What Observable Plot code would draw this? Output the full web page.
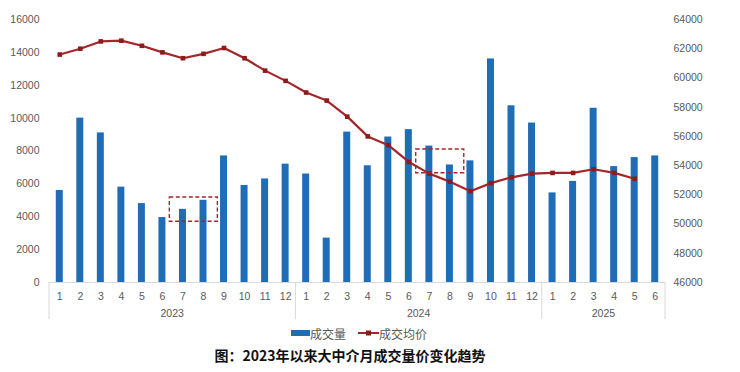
<!DOCTYPE html>
<html><head><meta charset="utf-8">
<script src="https://cdn.jsdelivr.net/npm/d3@7"></script>
<script src="https://cdn.jsdelivr.net/npm/@observablehq/plot@0.6"></script>
<style>
body{margin:0;background:#fff;font-family:"Noto Sans CJK SC","Liberation Sans",sans-serif;width:740px;overflow:hidden}
#legend{height:22px;display:flex;justify-content:center;align-items:center;font-size:12px;color:#595959;padding-right:22px}
#legend .item{display:flex;align-items:center;margin:0 6px}
#title{height:22px;line-height:22px;text-align:center;font-size:14px;font-weight:bold;color:#111;padding-right:40px}
</style></head><body>
<div id="chart"></div>
<div id="legend">
  <span class="item"><svg width="19" height="8"><rect x="0" y="1" width="19" height="6" fill="#1f6db6"></rect></svg><span>成交量</span></span>
  <span class="item"><svg width="21" height="8"><line x1="0" y1="4" x2="21" y2="4" stroke="#a3262a" stroke-width="2"></line><rect x="8" y="1.5" width="5" height="5" fill="#8c1c1c"></rect></svg><span>成交均价</span></span>
</div>
<div id="title">图：2023年以来大中介月成交量价变化趋势</div>
<script>
const years = ["2023", "2024", "2025"];
const monthLabels = [
  ["1","2","3","4","5","6","7","8","9","10","11","12"],
  ["1","2","3","4","5","6","7","8","9","10","11","12"],
  ["1","2","3","4","5","6"]
];
const volume = [5600,10000,9100,5800,4800,3950,4450,5000,7700,5900,6300,7200,
                6600,2700,9150,7100,8850,9300,8300,7150,7400,13600,10750,9700,
                5450,6150,10600,7050,7600,7700];
const avgPrice = [61600,62000,62500,62550,62200,61750,61350,61650,62050,61350,60500,59800,
                  59000,58450,57350,56000,55400,54250,53450,52900,52250,52800,53200,53450,
                  53500,53500,53750,53500,53100,null];
const leftTicks = [0,2000,4000,6000,8000,10000,12000,14000,16000];
const rightTicks = [46000,48000,50000,52000,54000,56000,58000,60000,62000,64000];
// highlight boxes: category span and value range (left axis units)
const boxes = [
  {from: "2023-7", to: "2023-8", lo: 3700, hi: 5170},
  {from: "2024-7", to: "2024-8", lo: 6650, hi: 8090}
];

const R0 = rightTicks[0], R1 = rightTicks[rightTicks.length - 1];
const L0 = leftTicks[0], L1 = leftTicks[leftTicks.length - 1];
const toLeft = v => L0 + (v - R0) * (L1 - L0) / (R1 - R0);
const fromLeft = v => R0 + (v - L0) * (R1 - R0) / (L1 - L0);

const rows = [];
years.forEach((yr, yi) => monthLabels[yi].forEach(m => rows.push({year: yr, month: m, key: yr + "-" + m})));
rows.forEach((r, i) => { r.volume = volume[i]; r.price = avgPrice[i]; });
const keys = rows.map(r => r.key);
const priceRows = rows.filter(r => r.price != null);

function groupMarks(index, scales, values, dim) {
  const x = scales.x, y = scales.y;
  const bw = typeof x.bandwidth === "function" ? x.bandwidth() : 0;
  const step = x(keys[1]) - x(keys[0]);
  const cx = k => x(k) + bw / 2;
  const y0 = y(0);
  const g = d3.create("svg:g");
  const edges = [];
  years.forEach(yr => {
    const ks = rows.filter(r => r.year === yr).map(r => r.key);
    const a = cx(ks[0]) - step / 2, b = cx(ks[ks.length - 1]) + step / 2;
    edges.push(a, b);
    g.append("text").attr("x", (a + b) / 2).attr("y", y0 + 31)
      .attr("text-anchor", "middle").attr("dy", "0.35em")
      .attr("fill", "#595959").attr("font-size", 10.5).text(yr);
  });
  [...new Set(edges.map(e => Math.round(e * 10) / 10))].forEach(e => {
    g.append("line").attr("x1", e).attr("x2", e).attr("y1", y0).attr("y2", y0 + 37)
      .attr("stroke", "#d9d9d9").attr("stroke-width", 1);
  });
  boxes.forEach(bx => {
    const x1 = cx(bx.from) - step * 0.64, x2 = cx(bx.to) + step * 0.7;
    const yTop = y(bx.hi), yBot = y(bx.lo);
    g.append("rect").attr("x", x1).attr("y", yTop).attr("width", x2 - x1).attr("height", yBot - yTop)
      .attr("fill", "none").attr("stroke", "#a3262a").attr("stroke-width", 1.4)
      .attr("stroke-dasharray", "4,2.5");
  });
  return g.node();
}

const chart = Plot.plot({
  width: 740,
  height: 322,
  marginTop: 19,
  marginBottom: 40,
  marginLeft: 49,
  marginRight: 75,
  style: {fontFamily: "'Liberation Sans', Arial, sans-serif", fontSize: "10.5px", color: "#595959", background: "white"},
  x: {type: "band", domain: keys, paddingInner: 0.66, paddingOuter: 0.33, round: false, axis: null},
  y: {domain: [L0, L1], axis: null},
  marks: [
    Plot.barY(rows, {x: "key", y: "volume", fill: "#1f6db6"}),
    Plot.ruleY([0], {stroke: "#d9d9d9"}),
    Plot.line(priceRows, {x: "key", y: d => toLeft(d.price), stroke: "#a3262a", strokeWidth: 2.2}),
    Plot.dot(priceRows, {x: "key", y: d => toLeft(d.price), symbol: "square", r: 2.6, fill: "#8c1c1c", stroke: "none"}),
    Plot.axisY({ticks: leftTicks, tickSize: 0, tickPadding: 10, anchor: "left", label: null, tickFormat: d => String(d), fill: "#595959"}),
    Plot.axisY({ticks: rightTicks.map(toLeft), tickSize: 0, tickPadding: 8, anchor: "right", label: null, textAnchor: "start", tickFormat: d => String(Math.round(fromLeft(d))), fill: "#595959"}),
    Plot.axisX({tickSize: 0, tickPadding: 10, label: null, tickFormat: k => k.split("-")[1], fill: "#595959"}),
    groupMarks
  ]
});
document.getElementById("chart").appendChild(chart);
</script>
</body></html>
